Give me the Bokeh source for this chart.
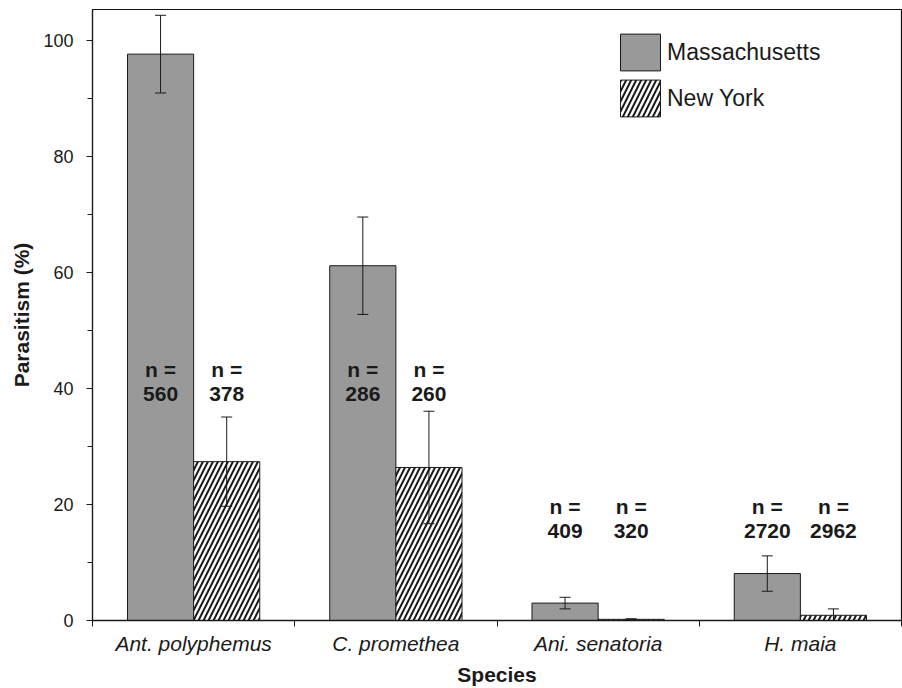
import numpy as np
from bokeh.plotting import figure
from bokeh.models import (ColumnDataSource, Range1d, Whisker, TeeHead, Legend,
                          LegendItem, FixedTicker)
from bokeh.core.properties import value
from bokeh.embed import file_html
from bokeh.resources import INLINE

# ---- data ----
species = ["Ant. polyphemus", "C. promethea", "Ani. senatoria", "H. maia"]
ma_pct = [97.7, 61.2, 3.0, 8.1]
ma_err = [6.7, 8.4, 1.0, 3.05]
ny_pct = [27.4, 26.4, 0.2, 0.9]
ny_err = [7.7, 9.7, 0.1, 1.1]
ma_n = [560, 286, 409, 2720]
ny_n = [378, 260, 320, 2962]
y_ticks = [0, 20, 40, 60, 80, 100]

# ---- layout constants ----
FONT = "Liberation Sans"
W, H = 902, 688
B_LEFT, B_RIGHT, B_TOP, B_BOTTOM = 92, 1, 9, 64
BAR_W = 0.327
label_n_y = [43.3, 43.3, 19.6, 19.6]     # label placement (data units)
label_num_y = [39.0, 39.0, 15.5, 15.5]

centers = np.arange(len(species)) + 0.5
ma_x = centers - BAR_W / 2
ny_x = centers + BAR_W / 2

ma_src = ColumnDataSource(dict(x=ma_x, top=ma_pct,
                               lo=np.array(ma_pct) - np.array(ma_err),
                               hi=np.array(ma_pct) + np.array(ma_err),
                               n=[str(v) for v in ma_n],
                               ly=label_n_y, ny_=label_num_y))
ny_src = ColumnDataSource(dict(x=ny_x, top=ny_pct,
                               lo=np.array(ny_pct) - np.array(ny_err),
                               hi=np.array(ny_pct) + np.array(ny_err),
                               n=[str(v) for v in ny_n],
                               ly=label_n_y, ny_=label_num_y))

p = figure(width=W, height=H, output_backend="svg", toolbar_location=None,
           x_range=Range1d(0, len(species)), y_range=Range1d(0, 105.4),
           min_border_left=B_LEFT, min_border_right=B_RIGHT,
           min_border_top=B_TOP, min_border_bottom=B_BOTTOM)
p.background_fill_color = "white"
p.border_fill_color = "white"
p.outline_line_color = "#111111"
p.outline_line_width = 1.2
p.xgrid.visible = False
p.ygrid.visible = False

r_ma = p.vbar(x="x", top="top", bottom=0, width=BAR_W, source=ma_src,
              fill_color="#999999", line_color="#1a1a1a", line_width=1)
r_ny = p.vbar(x="x", top="top", bottom=0, width=BAR_W, source=ny_src,
              fill_color="white", line_color="#1a1a1a", line_width=1,
              hatch_pattern="/", hatch_color="#1a1a1a", hatch_scale=10,
              hatch_weight=2)

for src in (ma_src, ny_src):
    w = Whisker(base="x", lower="lo", upper="hi", source=src, level="overlay",
                line_color="#1a1a1a", line_width=1,
                upper_head=TeeHead(size=11, line_color="#1a1a1a", line_width=1),
                lower_head=TeeHead(size=11, line_color="#1a1a1a", line_width=1))
    p.add_layout(w)
    p.text(x="x", y="ly", text=value("n ="), source=src,
           text_font=value(FONT), text_font_style="bold",
           text_font_size="21px", text_color="#1a1a1a",
           text_align="center", text_baseline="middle")
    p.text(x="x", y="ny_", text="n", source=src,
           text_font=value(FONT), text_font_style="bold",
           text_font_size="21px", text_color="#1a1a1a",
           text_align="center", text_baseline="middle")

# ---- axes ----
xa = p.xaxis[0]
xa.ticker = FixedTicker(ticks=list(centers),
                        minor_ticks=list(np.arange(len(species) + 1)))
xa.major_label_overrides = {float(c): s for c, s in zip(centers, species)}
xa.major_tick_line_color = None
xa.major_tick_out = 0
xa.major_tick_in = 0
xa.minor_tick_out = 6
xa.minor_tick_in = 0
xa.minor_tick_line_color = "#1a1a1a"
xa.axis_line_color = "#1a1a1a"
xa.axis_line_width = 1.6
xa.major_label_text_font = FONT
xa.major_label_text_font_style = "italic"
xa.major_label_text_font_size = "21px"
xa.major_label_text_color = "#1a1a1a"
xa.major_label_standoff = 5
xa.axis_label = "Species"
xa.axis_label_text_font = FONT
xa.axis_label_text_font_style = "bold"
xa.axis_label_text_font_size = "21px"
xa.axis_label_text_color = "#1a1a1a"
xa.axis_label_standoff = 5

ya = p.yaxis[0]
ya.ticker = FixedTicker(ticks=y_ticks,
                        minor_ticks=[t + 10 for t in y_ticks[:-1]])
ya.major_tick_out = 6
ya.major_tick_in = 0
ya.minor_tick_out = 5
ya.minor_tick_in = 0
ya.major_tick_line_color = "#1a1a1a"
ya.minor_tick_line_color = "#1a1a1a"
ya.axis_line_color = "#1a1a1a"
ya.axis_line_width = 1.2
ya.major_label_text_font = FONT
ya.major_label_text_font_size = "18px"
ya.major_label_text_color = "#1a1a1a"
ya.major_label_standoff = 13
ya.axis_label = "Parasitism (%)"
ya.axis_label_text_font = FONT
ya.axis_label_text_font_style = "bold"
ya.axis_label_text_font_size = "21px"
ya.axis_label_text_color = "#1a1a1a"
ya.axis_label_standoff = 7

# ---- legend ----
frame_h = H - B_TOP - B_BOTTOM
GW, GH, SP = 50, 46, 0
leg_h = GH * 2 + SP
legend = Legend(items=[LegendItem(label="Massachusetts", renderers=[r_ma]),
                       LegendItem(label="New York", renderers=[r_ny])],
                location=(523, frame_h - 24 - leg_h),
                glyph_width=GW, glyph_height=GH, spacing=SP, padding=0,
                label_standoff=2, border_line_color=None,
                background_fill_alpha=0,
                label_text_font=FONT, label_text_font_size="23px",
                label_text_color="#1a1a1a")
p.add_layout(legend)

open("out.html", "w").write(file_html(p, INLINE))
